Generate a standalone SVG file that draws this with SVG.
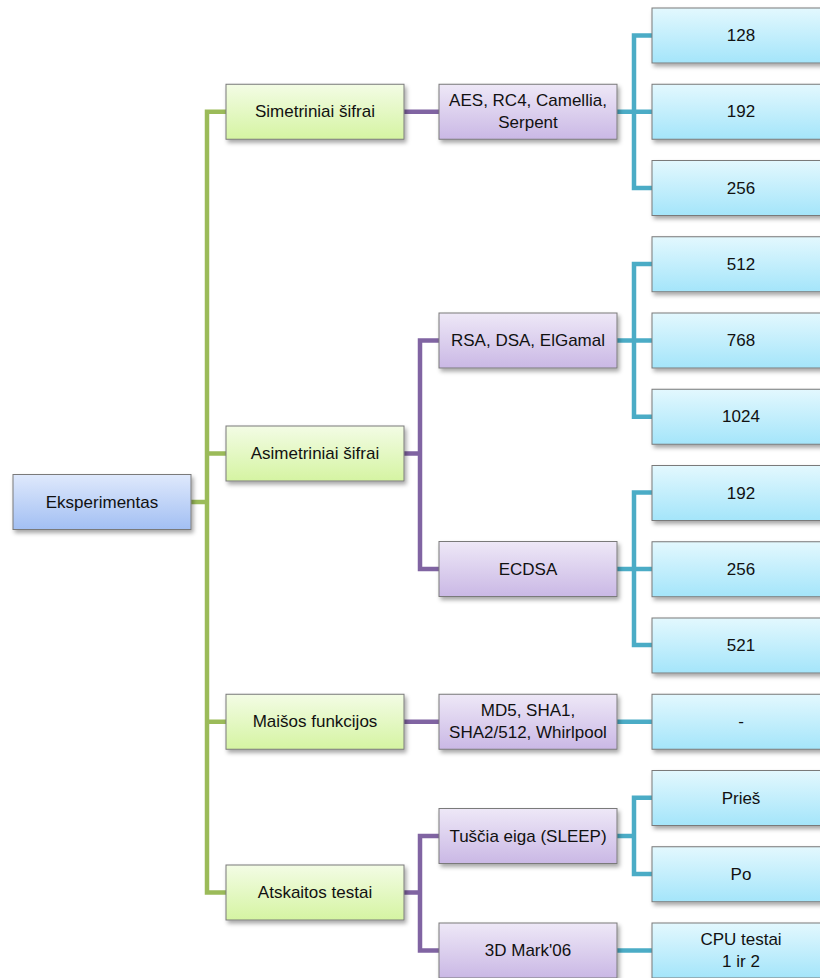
<svg xmlns="http://www.w3.org/2000/svg" width="820" height="978" viewBox="0 0 820 978">
  <defs>
    <linearGradient id="gRoot" x1="0" y1="0" x2="0" y2="1">
      <stop offset="0" stop-color="#dfe9fc"/>
      <stop offset="1" stop-color="#a2bff3"/>
    </linearGradient>
    <linearGradient id="gGreen" x1="0" y1="0" x2="0" y2="1">
      <stop offset="0" stop-color="#f3fce5"/>
      <stop offset="1" stop-color="#d5f4a2"/>
    </linearGradient>
    <linearGradient id="gPurple" x1="0" y1="0" x2="0" y2="1">
      <stop offset="0" stop-color="#eee8f7"/>
      <stop offset="1" stop-color="#cab8e5"/>
    </linearGradient>
    <linearGradient id="gBlue" x1="0" y1="0" x2="0" y2="1">
      <stop offset="0" stop-color="#e3f8fe"/>
      <stop offset="1" stop-color="#a4e5fa"/>
    </linearGradient>
    <filter id="shadow" x="-10%" y="-20%" width="130%" height="160%">
      <feDropShadow dx="2" dy="3" stdDeviation="2" flood-color="#000" flood-opacity="0.35"/>
    </filter>
  </defs>
  <style>
    .box { stroke: #7a7a7a; stroke-width: 1; filter: url(#shadow); }
    .root { fill: url(#gRoot); }
    .l1 { fill: url(#gGreen); }
    .l2 { fill: url(#gPurple); }
    .l3 { fill: url(#gBlue); }
    text { font-family: "Liberation Sans", Arial, sans-serif; font-size: 17px; fill: #111111; text-anchor: middle; dominant-baseline: central; }
    .c { fill: none; stroke-width: 4.5; stroke-linejoin: miter; stroke-linecap: butt; }
    .cg { stroke: #9bbb59; }
    .cp { stroke: #8064a2; }
    .cb { stroke: #4bacc6; }
  </style>

  <rect width="820" height="978" fill="#ffffff"/>

  <!-- connectors -->
  <g id="connectors">
    <!-- root to level 1 -->
    <path class="c cg" d="M191 502 H207 M226 111.75 H207 V892.5 H226 M207 453.5 H226 M207 721.75 H226"/>
    <!-- level 1 to level 2 -->
    <path class="c cp" d="M404 111.75 H439"/>
    <path class="c cp" d="M404 453.5 H420 M439 340.5 H420 V569 H439"/>
    <path class="c cp" d="M404 721.75 H439"/>
    <path class="c cp" d="M404 892.5 H420 M439 836 H420 V950.5 H439"/>
    <!-- level 2 to level 3 -->
    <path class="c cb" d="M617 111.75 H634 M652 35.5 H634 V188 H652 M634 111.75 H652"/>
    <path class="c cb" d="M617 340.5 H634 M652 264 H634 V416.75 H652 M634 340.5 H652"/>
    <path class="c cb" d="M617 569 H634 M652 492.5 H634 V645 H652 M634 569 H652"/>
    <path class="c cb" d="M617 721.75 H652"/>
    <path class="c cb" d="M617 836 H634 M652 797.75 H634 V874 H652"/>
    <path class="c cb" d="M617 950.5 H652"/>
  </g>

  <!-- root -->
  <g id="eksperimentas">
    <rect class="box root" x="13" y="474.5" width="178" height="55"/>
    <text x="102" y="502">Eksperimentas</text>
  </g>

  <!-- level 1 -->
  <g id="simetriniai">
    <rect class="box l1" x="226" y="84.25" width="178" height="55"/>
    <text x="315" y="111.75">Simetriniai šifrai</text>
  </g>
  <g id="asimetriniai">
    <rect class="box l1" x="226" y="426" width="178" height="55"/>
    <text x="315" y="453.5">Asimetriniai šifrai</text>
  </g>
  <g id="maisos">
    <rect class="box l1" x="226" y="694.25" width="178" height="55"/>
    <text x="315" y="721.75">Maišos funkcijos</text>
  </g>
  <g id="atskaitos">
    <rect class="box l1" x="226" y="865" width="178" height="55"/>
    <text x="315" y="892.5">Atskaitos testai</text>
  </g>

  <!-- level 2 -->
  <g id="aes">
    <rect class="box l2" x="439" y="84.25" width="178" height="55"/>
    <text x="528" y="100.25">AES, RC4, Camellia,</text>
    <text x="528" y="122.75">Serpent</text>
  </g>
  <g id="rsa">
    <rect class="box l2" x="439" y="313" width="178" height="55"/>
    <text x="528" y="340.5">RSA, DSA, ElGamal</text>
  </g>
  <g id="ecdsa">
    <rect class="box l2" x="439" y="541.5" width="178" height="55"/>
    <text x="528" y="569">ECDSA</text>
  </g>
  <g id="md5">
    <rect class="box l2" x="439" y="694.25" width="178" height="55"/>
    <text x="528" y="710.25">MD5, SHA1,</text>
    <text x="528" y="732.75">SHA2/512, Whirlpool</text>
  </g>
  <g id="sleep">
    <rect class="box l2" x="439" y="808.5" width="178" height="55"/>
    <text x="528" y="836">Tuščia eiga (SLEEP)</text>
  </g>
  <g id="mark06">
    <rect class="box l2" x="439" y="923" width="178" height="55"/>
    <text x="528" y="950.5">3D Mark'06</text>
  </g>

  <!-- level 3 -->
  <g id="aes-128">
    <rect class="box l3" x="652" y="8" width="178" height="55"/>
    <text x="741" y="35.5">128</text>
  </g>
  <g id="aes-192">
    <rect class="box l3" x="652" y="84.25" width="178" height="55"/>
    <text x="741" y="111.75">192</text>
  </g>
  <g id="aes-256">
    <rect class="box l3" x="652" y="160.5" width="178" height="55"/>
    <text x="741" y="188">256</text>
  </g>
  <g id="rsa-512">
    <rect class="box l3" x="652" y="236.75" width="178" height="55"/>
    <text x="741" y="264.25">512</text>
  </g>
  <g id="rsa-768">
    <rect class="box l3" x="652" y="313" width="178" height="55"/>
    <text x="741" y="340.5">768</text>
  </g>
  <g id="rsa-1024">
    <rect class="box l3" x="652" y="389.25" width="178" height="55"/>
    <text x="741" y="416.75">1024</text>
  </g>
  <g id="ecdsa-192">
    <rect class="box l3" x="652" y="465.5" width="178" height="55"/>
    <text x="741" y="493">192</text>
  </g>
  <g id="ecdsa-256">
    <rect class="box l3" x="652" y="541.75" width="178" height="55"/>
    <text x="741" y="569.25">256</text>
  </g>
  <g id="ecdsa-521">
    <rect class="box l3" x="652" y="618" width="178" height="55"/>
    <text x="741" y="645.5">521</text>
  </g>
  <g id="hash-none">
    <rect class="box l3" x="652" y="694.25" width="178" height="55"/>
    <text x="741" y="721.75">-</text>
  </g>
  <g id="sleep-pries">
    <rect class="box l3" x="652" y="770.5" width="178" height="55"/>
    <text x="741" y="798">Prieš</text>
  </g>
  <g id="sleep-po">
    <rect class="box l3" x="652" y="846.75" width="178" height="55"/>
    <text x="741" y="874.25">Po</text>
  </g>
  <g id="cpu-tests">
    <rect class="box l3" x="652" y="923" width="178" height="55"/>
    <text x="741" y="939">CPU testai</text>
    <text x="741" y="961.5">1 ir 2</text>
  </g>
</svg>
